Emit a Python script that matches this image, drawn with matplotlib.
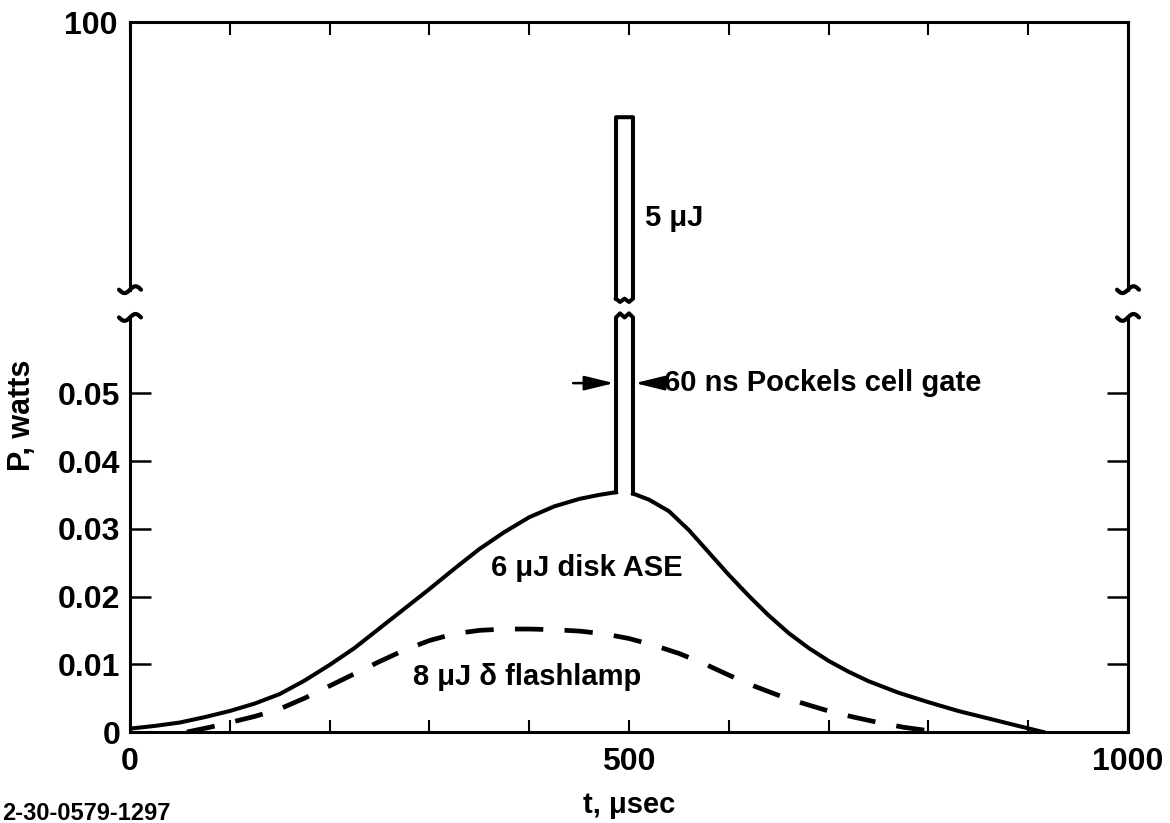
import numpy as np
import matplotlib.pyplot as plt
from matplotlib import ticker

plt.rcParams['font.family'] = ['Liberation Sans', 'DejaVu Sans']
plt.rcParams['font.weight'] = 'bold'
plt.rcParams['axes.labelweight'] = 'bold'

# disk ASE, rising side up to the Pockels gate, then falling side
ase_t_up = [0, 25, 50, 75, 100, 125, 150, 175, 200, 225, 250, 275, 300, 325,
            350, 375, 400, 425, 450, 470, 487]
ase_p_up = [0.0005, 0.0009, 0.0014, 0.0022, 0.0031, 0.0042, 0.0056, 0.0076,
            0.0099, 0.0124, 0.0153, 0.0182, 0.0211, 0.0241, 0.0270, 0.0295,
            0.0317, 0.0333, 0.0344, 0.0350, 0.0354]
ase_t_down = [504, 520, 540, 560, 580, 600, 620, 640, 660, 680, 700, 720, 740,
              770, 800, 830, 860, 890, 915]
ase_p_down = [0.0352, 0.0343, 0.0326, 0.0298, 0.0265, 0.0232, 0.0201, 0.0172,
              0.0146, 0.0124, 0.0105, 0.0089, 0.0075, 0.0058, 0.0044, 0.0031,
              0.0020, 0.0009, 0.0]

# flashlamp signal (dashed)
lamp_t = [57, 80, 100, 125, 150, 175, 200, 225, 250, 275, 300, 325, 350, 375,
          400, 425, 450, 475, 500, 525, 550, 575, 600, 625, 650, 675, 700, 725,
          750, 775, 800, 812]
lamp_p = [0.0, 0.0007, 0.0014, 0.0023, 0.0034, 0.0050, 0.0068, 0.0086, 0.0104,
          0.0121, 0.0135, 0.0145, 0.0150, 0.0152, 0.0152, 0.0151, 0.0149,
          0.0145, 0.0138, 0.0128, 0.0116, 0.0101, 0.0084, 0.0068, 0.0054,
          0.0042, 0.0031, 0.0022, 0.0014, 0.0007, 0.0002, 0.0]

gate_t = [487, 504]     # Pockels cell gate edges
gate_peak = 83          # W, peak of the 5 uJ pulse
low_ticks = [0, 0.01, 0.02, 0.03, 0.04, 0.05]
low_labels = ['0', '0.01', '0.02', '0.03', '0.04', '0.05']
x_labels = {0: '0', 500: '500', 1000: '1000'}

W, H = 1170, 823
fig = plt.figure(figsize=(W / 100, H / 100), dpi=100)
left, right = 130, 1128
ax_hi = fig.add_axes([left / W, (H - 302) / H, (right - left) / W, 280 / H])
ax_lo = fig.add_axes([left / W, (H - 732) / H, (right - left) / W, 420 / H])

lw_axis = 2.2
hi_lim = (50, 100)
lo_lim = (0, 0.062)
ax_hi.set_ylim(*hi_lim)
ax_lo.set_ylim(*lo_lim)
for ax in (ax_hi, ax_lo):
    ax.set_xlim(0, 1000)
    for s in ax.spines.values():
        s.set_linewidth(lw_axis)
ax_hi.spines['bottom'].set_visible(False)
ax_lo.spines['top'].set_visible(False)
hi_cut = 52.2
lo_cut = 0.0612
for side in ('left', 'right'):
    ax_hi.spines[side].set_bounds(hi_cut, 100)
    ax_lo.spines[side].set_bounds(0, lo_cut)

# x ticks every 100, labelled only at 0, 500, 1000
ax_lo.xaxis.set_major_locator(ticker.MultipleLocator(100))
ax_lo.xaxis.set_major_formatter(
    ticker.FuncFormatter(lambda v, p: x_labels.get(int(round(v)), '')))
ax_lo.tick_params(axis='x', direction='in', length=9, width=1.5, pad=11,
                  labelsize=23, top=False)
ax_hi.xaxis.set_major_locator(ticker.MultipleLocator(100))
ax_hi.tick_params(axis='x', direction='in', length=9, width=1.5, bottom=False,
                  top=True, labelbottom=False)

ax_lo.set_yticks(low_ticks)
ax_lo.set_yticklabels(low_labels)
ax_lo.tick_params(axis='y', direction='in', length=15, width=1.8, right=True,
                  labelsize=23, pad=7)
ax_hi.set_yticks([100])
ax_hi.set_yticklabels(['100'])
ax_hi.tick_params(axis='y', length=0, labelsize=23, pad=9)

# curves
ax_lo.plot(ase_t_up, ase_p_up, color='k', lw=2.9, solid_joinstyle='round')
ax_lo.plot(ase_t_down, ase_p_down, color='k', lw=2.9, solid_joinstyle='round')
ax_lo.plot(lamp_t, lamp_p, color='k', lw=3.4, dashes=(6, 4.5))

# gate pulse, lower part with a notched top
gm = (gate_t[0] + gate_t[1]) / 2
dip = 0.0006
ax_lo.plot([gate_t[0], gate_t[0], gate_t[0] + 4, gm, gate_t[1] - 4, gate_t[1], gate_t[1]],
           [ase_p_up[-1], lo_cut, lo_cut + dip, lo_cut, lo_cut + dip, lo_cut, ase_p_down[0]],
           color='k', lw=2.9, clip_on=False, solid_joinstyle='round')
# upper part of the pulse with a notched bottom
bot = 50.6
d = 0.6
ax_hi.plot([gate_t[0], gate_t[0], gate_t[1], gate_t[1], gate_t[1] - 4, gm, gate_t[0] + 4, gate_t[0]],
           [bot, gate_peak, gate_peak, bot, bot - d, bot, bot - d, bot],
           color='k', lw=2.9, clip_on=False, solid_joinstyle='round')

# break marks on both vertical axes
def tilde(ax, x_frac, y_val):
    px = np.linspace(-11, 11, 30)
    py = 3.4 * np.sin(np.pi * px / 11)
    x0, y0 = ax.transData.transform((x_frac * 1000, y_val))
    pts = fig.transFigure.inverted().transform(np.column_stack([x0 + px, y0 + py]))
    fig.add_artist(plt.Line2D(pts[:, 0], pts[:, 1], color='k', lw=3,
                              solid_capstyle='round'))

for xf in (0, 1):
    tilde(ax_hi, xf, hi_cut)
    tilde(ax_lo, xf, lo_cut)

# annotations
ax_hi.text(516, 65, '5 μJ', fontsize=21, va='center', ha='left')
arrow = dict(arrowstyle='-|>,head_length=0.9,head_width=0.22', color='k', lw=1.8,
             mutation_scale=20, shrinkA=0, shrinkB=0)
ax_lo.annotate('', xy=(gate_t[0] - 2, 0.0515), xytext=(444, 0.0515), arrowprops=arrow)
ax_lo.annotate('', xy=(gate_t[1] + 2, 0.0515), xytext=(522, 0.0515), arrowprops=arrow)
ax_lo.text(535, 0.0515, '60 ns Pockels cell gate', fontsize=21, va='center', ha='left')
ax_lo.text(458, 0.0242, '6 μJ disk ASE', fontsize=21, va='center', ha='center')
ax_lo.text(398, 0.0081, '8 μJ δ flashlamp', fontsize=21, va='center', ha='center')

ax_lo.set_xlabel('t, μsec', fontsize=21, labelpad=10)
fig.text(22 / W, 1 - 415 / H, 'P, watts', rotation=90, fontsize=22,
         ha='center', va='center')
fig.text(2 / W, 1 - 813 / H, '2-30-0579-1297', fontsize=17, ha='left', va='center')

fig.savefig('out.png', dpi=100)
